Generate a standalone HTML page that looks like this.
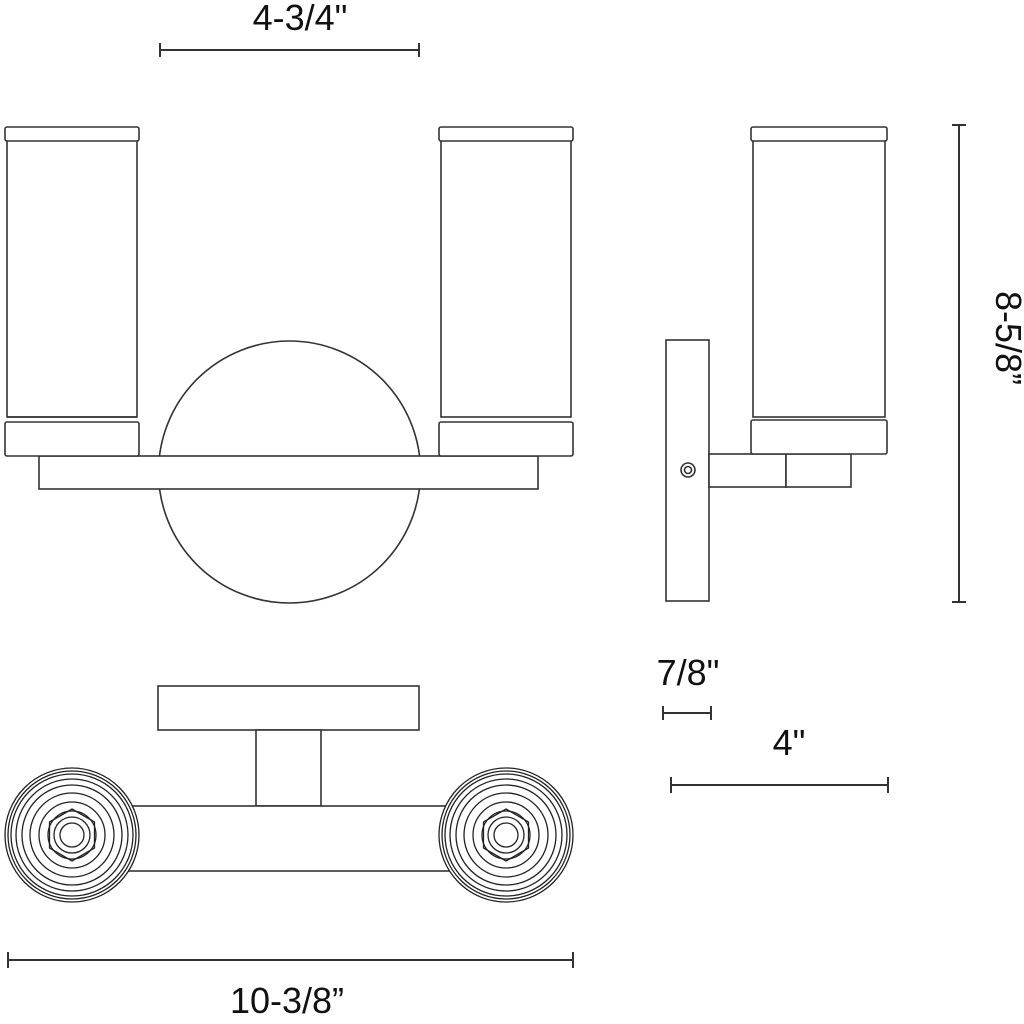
<!DOCTYPE html>
<html><head><style>html,body{margin:0;padding:0;background:#fff}svg{display:block}</style></head><body>
<svg width="1024" height="1024" viewBox="0 0 1024 1024" xmlns="http://www.w3.org/2000/svg" font-family="Liberation Sans, Arial, sans-serif">
<g fill="#fff" stroke="#333" stroke-width="1.6">
<!-- front view -->
<circle cx="289.5" cy="472" r="131"/>
<rect x="39" y="456" width="499" height="33"/>
<g id="lampL">
<rect x="7" y="140" width="130" height="277"/>
<rect x="5" y="127" width="134" height="14" rx="2"/>
<rect x="5" y="422" width="134" height="34" rx="2"/>
<line x1="7" y1="417" x2="137" y2="417"/>
</g>
<rect x="441" y="140" width="130" height="277"/>
<rect x="439" y="127" width="134" height="14" rx="2"/>
<rect x="439" y="422" width="134" height="34" rx="2"/>
<!-- side view -->
<rect x="666" y="340" width="43" height="261"/>
<rect x="709" y="454" width="77" height="33"/>
<rect x="786" y="454" width="65" height="33"/>
<rect x="753" y="140" width="132" height="277"/>
<rect x="751" y="127" width="136" height="14" rx="2"/>
<rect x="751" y="420" width="136" height="34" rx="2"/>
<circle cx="688" cy="470" r="7"/>
<circle cx="688" cy="470" r="3.5"/>
<!-- bottom view -->
<rect x="158" y="686" width="261" height="44"/>
<rect x="256" y="730" width="65" height="76"/>
<rect x="100" y="806" width="380" height="65"/>
</g>
<g fill="#fff" stroke="#222" stroke-width="1.3">
<g transform="translate(72,835)">
<circle r="67"/><circle r="64" fill="none"/><circle r="61" fill="none"/><circle r="56" fill="none"/><circle r="50" fill="none"/><circle r="42" fill="none"/><circle r="33" fill="none"/>
<polygon fill="none" points="0,-26 22.5,-13 22.5,13 0,26 -22.5,13 -22.5,-13"/>
<circle r="24" fill="none"/><circle r="18" fill="none"/><circle r="12" fill="none"/>
</g>
<g transform="translate(506,835)">
<circle r="67"/><circle r="64" fill="none"/><circle r="61" fill="none"/><circle r="56" fill="none"/><circle r="50" fill="none"/><circle r="42" fill="none"/><circle r="33" fill="none"/>
<polygon fill="none" points="0,-26 22.5,-13 22.5,13 0,26 -22.5,13 -22.5,-13"/>
<circle r="24" fill="none"/><circle r="18" fill="none"/><circle r="12" fill="none"/>
</g>
</g>
<!-- dimensions -->
<g stroke="#333" stroke-width="2" fill="none">
<path d="M160 50H419M160 43V57M419 43V57"/>
<path d="M959 125V602M952 125H966M952 602H966"/>
<path d="M663 713H711M663 706V720M711 706V720"/>
<path d="M671 785H888M671 777V793M888 777V793"/>
<path d="M8 960H573M8 952V968M573 952V968"/>
</g>
<g fill="#111" font-size="36">
<text x="300" y="30" text-anchor="middle">4-3/4"</text>
<text x="287" y="1013" text-anchor="middle">10-3/8”</text>
<text x="688" y="685" text-anchor="middle">7/8"</text>
<text x="789" y="755" text-anchor="middle">4"</text>
<text transform="translate(996,338) rotate(90)" text-anchor="middle">8-5/8”</text>
</g>
</svg>
</body></html>
